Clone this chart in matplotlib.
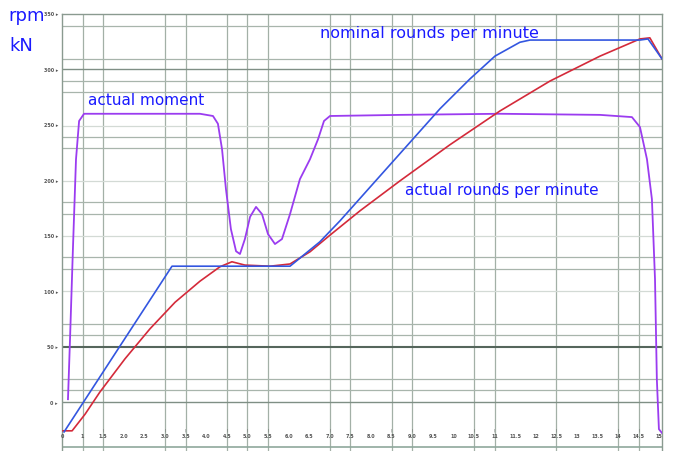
import matplotlib
matplotlib.use("Agg")
import matplotlib.pyplot as plt

# ---- data (x in time units, y in chart units) ----
nominal_x = [0.10, 5.34, 11.07, 12.52, 13.50, 18.35, 19.81, 21.02, 22.23, 22.72, 28.06, 28.45, 29.13]
nominal_y = [-0.54, 2.45, 2.45, 2.89, 3.27, 5.29, 5.83, 6.24, 6.49, 6.53, 6.53, 6.55, 6.19]

actual_x = [0.05, 0.49, 1.12, 1.84, 3.06, 4.27, 5.49, 6.70, 7.67, 8.25, 8.88, 10.10, 11.07,
            12.04, 13.01, 14.47, 16.41, 18.83, 21.26, 23.69, 26.12, 28.06, 28.54, 29.13]
actual_y = [-0.52, -0.52, -0.22, 0.18, 0.78, 1.32, 1.80, 2.18, 2.44, 2.53, 2.47, 2.45, 2.49,
            2.71, 3.01, 3.45, 3.99, 4.64, 5.25, 5.79, 6.24, 6.55, 6.57, 6.19]

moment_x = [0.29, 0.39, 0.53, 0.68, 0.83, 1.07, 4.27, 6.70, 7.33, 7.57, 7.77, 7.96, 8.20, 8.45,
            8.64, 8.88, 9.13, 9.42, 9.71, 10.00, 10.34, 10.68, 11.07, 11.55, 12.04, 12.43,
            12.72, 13.01, 16.41, 21.26, 26.12, 27.67, 28.06, 28.40, 28.64, 28.79, 28.88,
            28.98, 29.13]
moment_y = [0.05, 1.14, 2.76, 4.38, 5.07, 5.20, 5.20, 5.20, 5.16, 5.02, 4.56, 3.84, 3.12, 2.72,
            2.67, 2.94, 3.34, 3.52, 3.39, 3.03, 2.85, 2.94, 3.39, 4.02, 4.38, 4.74,
            5.07, 5.16, 5.18, 5.20, 5.18, 5.14, 4.96, 4.38, 3.66, 2.22, 0.41,
            -0.49, -0.56]

x_ticks = list(range(0, 30))
x_tick_labels = ["0", "1", "1.5", "2.0", "2.5", "3.0", "3.5", "4.0", "4.5", "5.0",
                 "5.5", "6.0", "6.5", "7.0", "7.5", "8.0", "8.5", "9.0", "9.5", "10",
                 "10.5", "11", "11.5", "12", "12.5", "13", "13.5", "14", "14.5", "15"]
y_ticks = [0, 1, 2, 3, 4, 5, 6, 7]
y_tick_labels = ["0", "50", "100", "150", "200", "250", "300", "350"]

vgrid = [1, 2, 5, 6, 8, 9, 10, 13, 14, 16, 17, 20, 21, 24, 27, 28]
vticks_marked = [2, 5, 6, 8, 9, 10, 13, 16, 17, 20, 21, 24, 27, 28]
hgrid_dark = [1.0]
hgrid_strong = [6.0, 0.0]
hgrid_mid = [6.78, 6.19, 5.79, 5.59, 4.78, 4.58, 3.61, 3.39, 2.62, 2.40, 1.41, 1.21, 0.41, 0.22]
hgrid_light = [4.98, 3.99, 2.99, 2.00]

fig = plt.figure(figsize=(6.81, 4.52), dpi=100)
ax = fig.add_axes([62 / 681, 0.0, 600 / 681, 1 - 15 / 452])
ax.set_xlim(0, 29.13)
ax.set_ylim(-0.884, 7.0)

for v in vgrid:
    ax.axvline(v, color="#a3b0a7", lw=0.9, zorder=1)
for h in hgrid_light:
    ax.axhline(h, color="#d3dad5", lw=0.9, zorder=1)
for h in hgrid_mid:
    ax.axhline(h, color="#a8b5ac", lw=0.9, zorder=1)
for h in hgrid_strong:
    ax.axhline(h, color="#7f8f85", lw=1.0, zorder=1)
for h in hgrid_dark:
    ax.axhline(h, color="#55665c", lw=1.5, zorder=1)
ax.axhline(-0.81, color="#8fa89c", lw=1.2, zorder=1)

ax.plot(moment_x, moment_y, color="#9b3cf0", lw=1.3, zorder=3)
ax.plot(actual_x, actual_y, color="#d42a3a", lw=1.2, zorder=4)
ax.plot(nominal_x, nominal_y, color="#3356e0", lw=1.2, zorder=5)

ax.set_xticks([])
ax.set_yticks([])
for s in ax.spines.values():
    s.set_color("#8a9a90")
    s.set_linewidth(1.0)
ax.spines["bottom"].set_visible(False)

for xv, lab in zip(x_ticks, x_tick_labels):
    ax.text(xv, -0.61, lab, fontsize=3.5, color="#555555", ha="center", va="center",
            fontweight="bold", zorder=6)
for xv in vticks_marked:
    ax.text(xv, -0.5, "|", fontsize=3, color="#666666", ha="center", va="center", zorder=6)
for yv, lab in zip(y_ticks, y_tick_labels):
    ax.text(-0.2, yv, lab + " \u25b8", fontsize=3.5, color="#555555", ha="right", va="center",
            fontweight="bold", clip_on=False)

blue = "#1a1aff"
fig.text(8 / 681, 1 - 16 / 452, "rpm", fontsize=13, color=blue, ha="left", va="center")
fig.text(9 / 681, 1 - 46 / 452, "kN", fontsize=13, color=blue, ha="left", va="center")
ax.text(12.55, 6.67, "nominal rounds per minute", fontsize=11.5, color=blue, ha="left", va="center")
ax.text(1.27, 5.46, "actual moment", fontsize=11, color=blue, ha="left", va="center")
ax.text(16.65, 3.84, "actual rounds per minute", fontsize=11, color=blue, ha="left", va="center")

fig.savefig("out.png", dpi=100, facecolor="white")
